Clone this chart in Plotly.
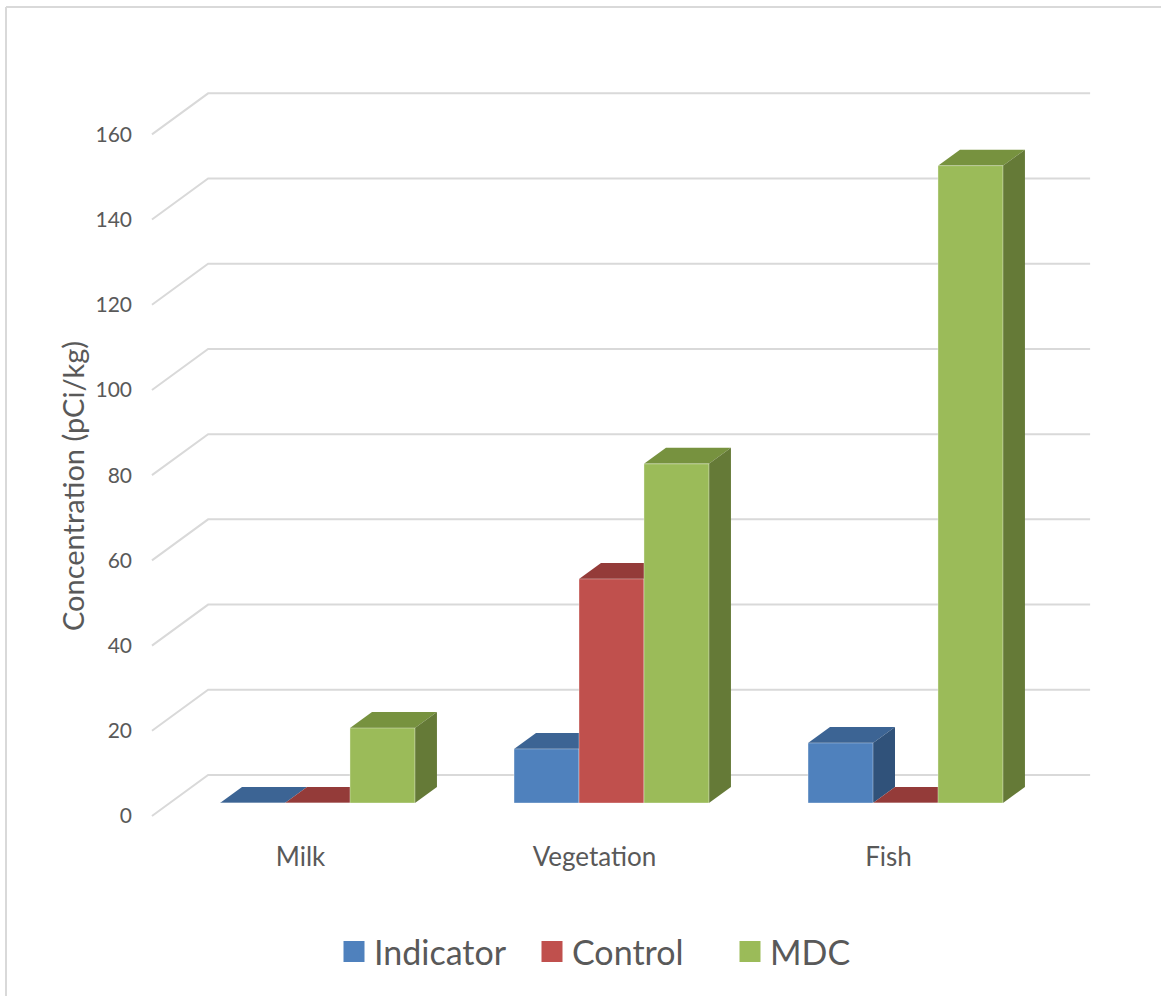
import plotly.graph_objects as go

# ---- data ---------------------------------------------------------------
categories = ["Milk", "Vegetation", "Fish"]
series_names = ["Indicator", "Control", "MDC"]
indicator = [0, 12.7, 14.1]
control = [0, 52.6, 0]
mdc = [17.6, 79.6, 149.6]
y_ticks = [0, 20, 40, 60, 80, 100, 120, 140, 160]

# ---- styling ------------------------------------------------------------
front_colors = ["#4F81BD", "#C0504D", "#9BBB59"]
top_colors = ["#3C6494", "#943B39", "#77923F"]
side_colors = ["#30527A", "#7D302E", "#657A37"]
text_color = "#595959"
grid_color = "#D9D9D9"
font_family = "Lato, 'Open Sans', sans-serif"

W, H = 1161, 996
ML, MR, MT, MB = 150, 61, 60, 166
plot_w = W - ML - MR
plot_h = H - MT - MB

BARGAP = 0.337
X_RANGE = [-0.5697, 2.6616]
Y_RANGE = [-6.34, 174.4]

px_per_x = plot_w / (X_RANGE[1] - X_RANGE[0])
px_per_y = plot_h / (Y_RANGE[1] - Y_RANGE[0])

# pseudo-3D depth of a bar, in pixels, converted to axis units
DEPTH_DX = 22 / px_per_x
DEPTH_DY = 16 / px_per_y

# floor / wall geometry (offsets from the bar plane)
FRONT_DX = -0.563   # left-front corner of the floor
BACK_DX = -0.372    # left-back corner of the floor
RIGHT_X = 2.628     # right end of the back wall
FRONT_DY = -13 / px_per_y
BACK_DY = 28 / px_per_y

values = [indicator, control, mdc]
x_idx = list(range(len(categories)))

fig = go.Figure()

# front faces of the bars
for s, name in enumerate(series_names):
    fig.add_trace(go.Bar(
        x=x_idx, y=values[s], name=name, showlegend=False,
        marker=dict(color=front_colors[s],
                    line=dict(color="rgba(255,255,255,0.35)", width=1)),
        hoverinfo="x+y+name",
    ))

# legend entries (large square swatches)
for s, name in enumerate(series_names):
    fig.add_trace(go.Scatter(
        x=[None], y=[None], mode="markers", name=name,
        marker=dict(symbol="square", size=16, color=front_colors[s],
                    line=dict(color=front_colors[s], width=5)),
    ))

shapes = []

# back-wall gridlines with the slanted side-wall segment
for v in y_ticks:
    shapes.append(dict(type="path", layer="below", xref="x", yref="y",
                       path=(f"M{FRONT_DX},{v + FRONT_DY} L{BACK_DX},{v + BACK_DY} "
                             f"L{RIGHT_X},{v + BACK_DY}"),
                       line=dict(color=grid_color, width=2)))

# top and side faces of each bar
bar_w = (1 - BARGAP) / len(series_names)
for i in x_idx:
    for s in range(len(series_names)):
        v = values[s][i]
        x0 = i - (1 - BARGAP) / 2 + s * bar_w
        x1 = x0 + bar_w
        shapes.append(dict(
            type="path", layer="below", xref="x", yref="y",
            path=(f"M{x0},{v} L{x1},{v} L{x1 + DEPTH_DX},{v + DEPTH_DY} "
                  f"L{x0 + DEPTH_DX},{v + DEPTH_DY} Z"),
            fillcolor=top_colors[s], line=dict(width=0)))
        if v > 0:
            shapes.append(dict(
                type="path", layer="below", xref="x", yref="y",
                path=(f"M{x1},0 L{x1},{v} L{x1 + DEPTH_DX},{v + DEPTH_DY} "
                      f"L{x1 + DEPTH_DX},{DEPTH_DY} Z"),
                fillcolor=side_colors[s], line=dict(width=0)))

# chart frame (left and top edges)
def paper_x(px):
    return (px - ML) / plot_w


def paper_y(py):
    return (H - MB - py) / plot_h


shapes.append(dict(type="line", xref="paper", yref="paper",
                   x0=paper_x(6), x1=paper_x(6), y0=paper_y(7), y1=paper_y(H),
                   line=dict(color=grid_color, width=2)))
shapes.append(dict(type="line", xref="paper", yref="paper",
                   x0=paper_x(6), x1=paper_x(W), y0=paper_y(7), y1=paper_y(7),
                   line=dict(color=grid_color, width=2)))

fig.update_layout(
    width=W, height=H,
    margin=dict(l=ML, r=MR, t=MT, b=MB),
    paper_bgcolor="white", plot_bgcolor="white",
    barmode="group", bargap=BARGAP, bargroupgap=0,
    font=dict(family=font_family, color=text_color),
    shapes=shapes,
    xaxis=dict(
        range=X_RANGE, tickmode="array", tickvals=x_idx, ticktext=categories,
        showgrid=False, zeroline=False, showline=False, ticks="",
        tickfont=dict(size=26, color=text_color),
        ticklabelshift=-17, ticklabelstandoff=9,
    ),
    yaxis=dict(
        range=Y_RANGE, tickmode="array", tickvals=y_ticks,
        showgrid=False, zeroline=False, showline=False, ticks="",
        tickfont=dict(size=21, color=text_color),
        ticklabelshift=13, ticklabelstandoff=17,
    ),
    annotations=[dict(
        text="Concentration (pCi/kg)", textangle=-90, showarrow=False,
        xref="paper", yref="paper", x=paper_x(72), y=paper_y(486),
        xanchor="center", yanchor="middle",
        font=dict(size=29, color=text_color, family=font_family),
    )],
    legend=dict(
        orientation="h", xref="container", yref="container",
        x=334 / W, y=1 - 952 / H, xanchor="left", yanchor="middle",
        entrywidth=153, entrywidthmode="pixels",
        font=dict(size=34, color=text_color), itemclick=False,
        bgcolor="rgba(0,0,0,0)",
    ),
)

fig.write_html("out.html")
